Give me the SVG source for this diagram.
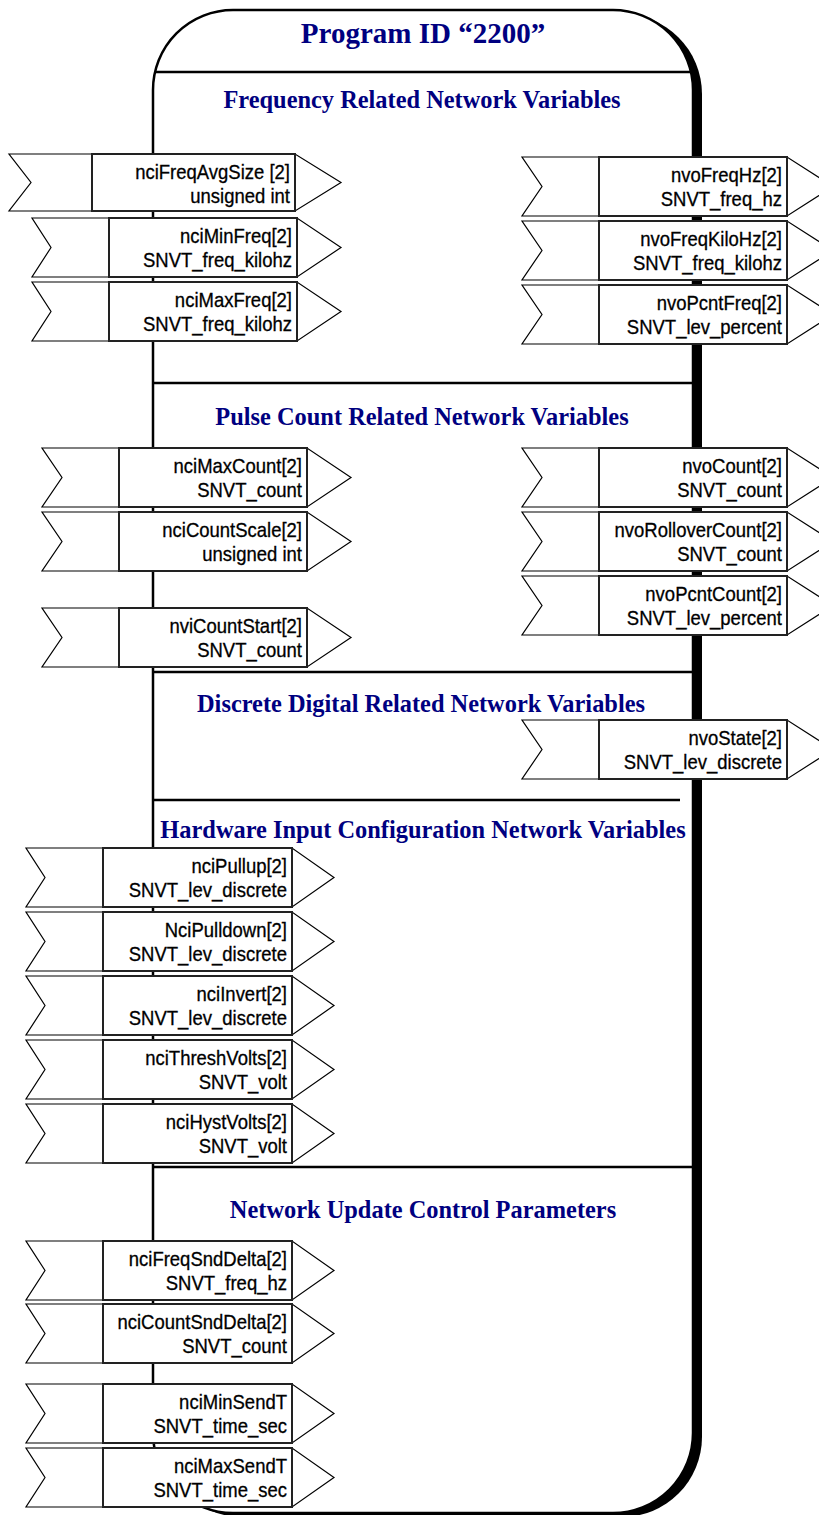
<svg xmlns="http://www.w3.org/2000/svg" width="819" height="1515" viewBox="0 0 819 1515">
  <style>
    .frame{fill:#fff;stroke:#000;stroke-width:2.5}
    .shadow{fill:#000}
    .rule{stroke:#000;stroke-width:2.5}
    .h{font-family:"Liberation Serif","Times New Roman",serif;font-weight:bold;fill:#000080;text-anchor:middle}
    .title{font-size:29px}
    .sec{font-size:24.4px}
    .flag polygon{fill:#fff;stroke:#000;stroke-width:1.2}
    .flag rect{fill:#fff;stroke:#222;stroke-width:2}
    .flag text{font-family:"Liberation Sans",Arial,sans-serif;font-size:20px;fill:#000;stroke:#000;stroke-width:0.3;text-anchor:end}
  </style>
  <rect width="819" height="1515" fill="#fff"/>

  <!-- program block with drop shadow -->
  <g id="program-block">
    <rect class="shadow" x="162" y="14" width="540" height="1503" rx="80" ry="80"/>
    <rect class="frame" x="153" y="10" width="540" height="1503" rx="80" ry="80"/>
    <text class="h title" x="423" y="43">Program ID “2200”</text>
  </g>

  <!-- section separators -->
  <g id="connectors">
    <line class="rule" x1="155" y1="72" x2="691" y2="72"/>
    <line class="rule" x1="153" y1="383" x2="693" y2="383"/>
    <line class="rule" x1="153" y1="672" x2="693" y2="672"/>
    <line class="rule" x1="153" y1="800" x2="680" y2="800"/>
    <line class="rule" x1="153" y1="1167" x2="693" y2="1167"/>
  </g>

  <!-- section headings -->
  <g id="headings">
    <text class="h sec" x="422" y="108">Frequency Related Network Variables</text>
    <text class="h sec" x="422" y="425">Pulse Count Related Network Variables</text>
    <text class="h sec" x="421" y="712">Discrete Digital Related Network Variables</text>
    <text class="h sec" x="423" y="838">Hardware Input Configuration Network Variables</text>
    <text class="h sec" x="423" y="1218">Network Update Control Parameters</text>
  </g>

  <!-- frequency inputs -->
  <g id="nciFreqAvgSize" class="flag">
    <polygon points="9,154 295,154 341,182.5 295,211 9,211 31,182.5"/>
    <rect x="92" y="154" width="203" height="57"/>
    <text transform="translate(290 179) scale(0.925 1)">nciFreqAvgSize [2]</text>
    <text transform="translate(290 203) scale(0.925 1)">unsigned int</text>
  </g>
  <g id="nciMinFreq" class="flag">
    <polygon points="32,218 297,218 341,247.5 297,277 32,277 51,247.5"/>
    <rect x="109" y="218" width="188" height="59"/>
    <text transform="translate(292 243) scale(0.925 1)">nciMinFreq[2]</text>
    <text transform="translate(292 267) scale(0.925 1)">SNVT_freq_kilohz</text>
  </g>
  <g id="nciMaxFreq" class="flag">
    <polygon points="32,282 297,282 341,311.5 297,341 32,341 51,311.5"/>
    <rect x="109" y="282" width="188" height="59"/>
    <text transform="translate(292 307) scale(0.925 1)">nciMaxFreq[2]</text>
    <text transform="translate(292 331) scale(0.925 1)">SNVT_freq_kilohz</text>
  </g>

  <!-- frequency outputs -->
  <g id="nvoFreqHz" class="flag">
    <polygon points="522,157 787,157 833,186.5 787,216 522,216 542,186.5"/>
    <rect x="599" y="157" width="188" height="59"/>
    <text transform="translate(782 182) scale(0.925 1)">nvoFreqHz[2]</text>
    <text transform="translate(782 206) scale(0.925 1)">SNVT_freq_hz</text>
  </g>
  <g id="nvoFreqKiloHz" class="flag">
    <polygon points="522,221 787,221 833,250.5 787,280 522,280 542,250.5"/>
    <rect x="599" y="221" width="188" height="59"/>
    <text transform="translate(782 246) scale(0.925 1)">nvoFreqKiloHz[2]</text>
    <text transform="translate(782 270) scale(0.925 1)">SNVT_freq_kilohz</text>
  </g>
  <g id="nvoPcntFreq" class="flag">
    <polygon points="522,285 787,285 833,314.5 787,344 522,344 542,314.5"/>
    <rect x="599" y="285" width="188" height="59"/>
    <text transform="translate(782 310) scale(0.925 1)">nvoPcntFreq[2]</text>
    <text transform="translate(782 334) scale(0.925 1)">SNVT_lev_percent</text>
  </g>

  <!-- pulse count inputs -->
  <g id="nciMaxCount" class="flag">
    <polygon points="42,448 307,448 351,477.5 307,507 42,507 62,477.5"/>
    <rect x="119" y="448" width="188" height="59"/>
    <text transform="translate(302 473) scale(0.925 1)">nciMaxCount[2]</text>
    <text transform="translate(302 497) scale(0.925 1)">SNVT_count</text>
  </g>
  <g id="nciCountScale" class="flag">
    <polygon points="42,512 307,512 351,541.5 307,571 42,571 62,541.5"/>
    <rect x="119" y="512" width="188" height="59"/>
    <text transform="translate(302 537) scale(0.925 1)">nciCountScale[2]</text>
    <text transform="translate(302 561) scale(0.925 1)">unsigned int</text>
  </g>
  <g id="nviCountStart" class="flag">
    <polygon points="42,608 307,608 351,637.5 307,667 42,667 62,637.5"/>
    <rect x="119" y="608" width="188" height="59"/>
    <text transform="translate(302 633) scale(0.925 1)">nviCountStart[2]</text>
    <text transform="translate(302 657) scale(0.925 1)">SNVT_count</text>
  </g>

  <!-- pulse count outputs -->
  <g id="nvoCount" class="flag">
    <polygon points="522,448 787,448 833,477.5 787,507 522,507 542,477.5"/>
    <rect x="599" y="448" width="188" height="59"/>
    <text transform="translate(782 473) scale(0.925 1)">nvoCount[2]</text>
    <text transform="translate(782 497) scale(0.925 1)">SNVT_count</text>
  </g>
  <g id="nvoRolloverCount" class="flag">
    <polygon points="522,512 787,512 833,541.5 787,571 522,571 542,541.5"/>
    <rect x="599" y="512" width="188" height="59"/>
    <text transform="translate(782 537) scale(0.925 1)">nvoRolloverCount[2]</text>
    <text transform="translate(782 561) scale(0.925 1)">SNVT_count</text>
  </g>
  <g id="nvoPcntCount" class="flag">
    <polygon points="522,576 787,576 833,605.5 787,635 522,635 542,605.5"/>
    <rect x="599" y="576" width="188" height="59"/>
    <text transform="translate(782 601) scale(0.925 1)">nvoPcntCount[2]</text>
    <text transform="translate(782 625) scale(0.925 1)">SNVT_lev_percent</text>
  </g>

  <!-- discrete output -->
  <g id="nvoState" class="flag">
    <polygon points="522,720 787,720 833,749.5 787,779 522,779 542,749.5"/>
    <rect x="599" y="720" width="188" height="59"/>
    <text transform="translate(782 745) scale(0.925 1)">nvoState[2]</text>
    <text transform="translate(782 769) scale(0.925 1)">SNVT_lev_discrete</text>
  </g>

  <!-- hardware configuration inputs -->
  <g id="nciPullup" class="flag">
    <polygon points="26,848 292,848 334,877.5 292,907 26,907 45,877.5"/>
    <rect x="103" y="848" width="189" height="59"/>
    <text transform="translate(287 873) scale(0.925 1)">nciPullup[2]</text>
    <text transform="translate(287 897) scale(0.925 1)">SNVT_lev_discrete</text>
  </g>
  <g id="NciPulldown" class="flag">
    <polygon points="26,912 292,912 334,941.5 292,971 26,971 45,941.5"/>
    <rect x="103" y="912" width="189" height="59"/>
    <text transform="translate(287 937) scale(0.925 1)">NciPulldown[2]</text>
    <text transform="translate(287 961) scale(0.925 1)">SNVT_lev_discrete</text>
  </g>
  <g id="nciInvert" class="flag">
    <polygon points="26,976 292,976 334,1005.5 292,1035 26,1035 45,1005.5"/>
    <rect x="103" y="976" width="189" height="59"/>
    <text transform="translate(287 1001) scale(0.925 1)">nciInvert[2]</text>
    <text transform="translate(287 1025) scale(0.925 1)">SNVT_lev_discrete</text>
  </g>
  <g id="nciThreshVolts" class="flag">
    <polygon points="26,1040 292,1040 334,1069.5 292,1099 26,1099 45,1069.5"/>
    <rect x="103" y="1040" width="189" height="59"/>
    <text transform="translate(287 1065) scale(0.925 1)">nciThreshVolts[2]</text>
    <text transform="translate(287 1089) scale(0.925 1)">SNVT_volt</text>
  </g>
  <g id="nciHystVolts" class="flag">
    <polygon points="26,1104 292,1104 334,1133.5 292,1163 26,1163 45,1133.5"/>
    <rect x="103" y="1104" width="189" height="59"/>
    <text transform="translate(287 1129) scale(0.925 1)">nciHystVolts[2]</text>
    <text transform="translate(287 1153) scale(0.925 1)">SNVT_volt</text>
  </g>

  <!-- update control inputs -->
  <g id="nciFreqSndDelta" class="flag">
    <polygon points="26,1241 292,1241 334,1270.5 292,1300 26,1300 45,1270.5"/>
    <rect x="103" y="1241" width="189" height="59"/>
    <text transform="translate(287 1266) scale(0.925 1)">nciFreqSndDelta[2]</text>
    <text transform="translate(287 1290) scale(0.925 1)">SNVT_freq_hz</text>
  </g>
  <g id="nciCountSndDelta" class="flag">
    <polygon points="26,1304 292,1304 334,1333.5 292,1363 26,1363 45,1333.5"/>
    <rect x="103" y="1304" width="189" height="59"/>
    <text transform="translate(287 1329) scale(0.925 1)">nciCountSndDelta[2]</text>
    <text transform="translate(287 1353) scale(0.925 1)">SNVT_count</text>
  </g>
  <g id="nciMinSendT" class="flag">
    <polygon points="26,1384 292,1384 334,1413.5 292,1443 26,1443 45,1413.5"/>
    <rect x="103" y="1384" width="189" height="59"/>
    <text transform="translate(287 1409) scale(0.925 1)">nciMinSendT</text>
    <text transform="translate(287 1433) scale(0.925 1)">SNVT_time_sec</text>
  </g>
  <g id="nciMaxSendT" class="flag">
    <polygon points="26,1448 292,1448 334,1477.5 292,1507 26,1507 45,1477.5"/>
    <rect x="103" y="1448" width="189" height="59"/>
    <text transform="translate(287 1473) scale(0.925 1)">nciMaxSendT</text>
    <text transform="translate(287 1497) scale(0.925 1)">SNVT_time_sec</text>
  </g>
</svg>
